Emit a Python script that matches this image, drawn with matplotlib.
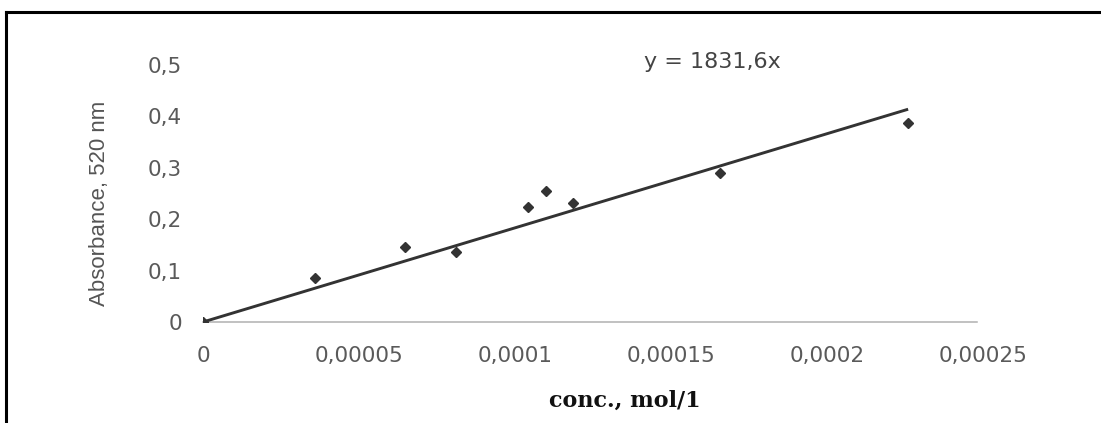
import matplotlib
matplotlib.use("Agg")
import matplotlib.pyplot as plt
from matplotlib.lines import Line2D
import numpy as np

# ---- data ----
conc = [0.0, 0.0000359, 0.0000647, 0.0000811, 0.0001041, 0.0001098, 0.0001185, 0.0001657, 0.000226]
absorbance = [0.0, 0.086, 0.146, 0.137, 0.224, 0.255, 0.232, 0.289, 0.388]
slope = 1831.6
x_ticks = [0, 0.00005, 0.0001, 0.00015, 0.0002, 0.00025]
x_tick_labels = ["0", "0,00005", "0,0001", "0,00015", "0,0002", "0,00025"]
y_ticks = [0, 0.1, 0.2, 0.3, 0.4, 0.5]
y_tick_labels = ["0", "0,1", "0,2", "0,3", "0,4", "0,5"]
equation = "y = 1831,6x"
x_label = "conc., mol/1"
y_label = "Absorbance, 520 nm"

W, H, DPI = 1101, 423, 100
fig = plt.figure(figsize=(W / DPI, H / DPI), dpi=DPI, facecolor="white")

left_px, right_px, bottom_px, top_px = 203, 983, 322, 65
ax = fig.add_axes([left_px / W, 1 - bottom_px / H,
                   (right_px - left_px) / W, (bottom_px - top_px) / H])
ax.set_facecolor("white")

# trendline through origin
xs = np.array([0.0, max(conc)])
ax.plot(xs, slope * xs, color="#333333", lw=2.1, solid_capstyle="butt", zorder=3)
# data points
ax.plot(conc, absorbance, linestyle="none", marker="D", markersize=5.5,
        color="#333333", zorder=4)

ax.set_xlim(0, 0.00025)
ax.set_ylim(0, 0.5)

ax.set_xticks(x_ticks)
ax.set_xticklabels(x_tick_labels, family="DejaVu Sans", fontsize=15.5, color="#5a5a5a")
ax.set_yticks(y_ticks)
ax.set_yticklabels(y_tick_labels, family="DejaVu Sans", fontsize=15.5, color="#5a5a5a")
ax.tick_params(axis="x", length=0, pad=17)
ax.tick_params(axis="y", length=0, pad=15)

for s in ["top", "right", "left"]:
    ax.spines[s].set_visible(False)
ax.spines["bottom"].set_color("#b0b0b0")
ax.spines["bottom"].set_linewidth(1.1)
ax.spines["bottom"].set_bounds(0, 0.000248)

ax.set_ylabel(y_label, family="Liberation Sans", fontsize=16, color="#555555")
ax.yaxis.set_label_coords((99 - left_px) / (right_px - left_px),
                          (bottom_px - 203) / (bottom_px - top_px))
ax.yaxis.label.set_verticalalignment("center")

ax.set_xlabel(x_label, family="DejaVu Serif", fontsize=16, fontweight="bold",
              color="#111111")
ax.xaxis.set_label_coords((625 - left_px) / (right_px - left_px),
                          (bottom_px - 401) / (bottom_px - top_px))
ax.xaxis.label.set_verticalalignment("center")

fig.text(712 / W, 1 - 62 / H, equation, family="DejaVu Sans", fontsize=16,
         color="#444444", ha="center", va="center")

# outer frame (only top and left edges visible in the reference)
fig.add_artist(Line2D([5.5 / W, 1.0], [1 - 12.5 / H, 1 - 12.5 / H],
                      transform=fig.transFigure, color="black", lw=2.2,
                      solid_capstyle="projecting"))
fig.add_artist(Line2D([5.5 / W, 5.5 / W], [0.0, 1 - 12.5 / H],
                      transform=fig.transFigure, color="black", lw=2.2,
                      solid_capstyle="projecting"))

fig.savefig("out.png", dpi=DPI, facecolor="white")
